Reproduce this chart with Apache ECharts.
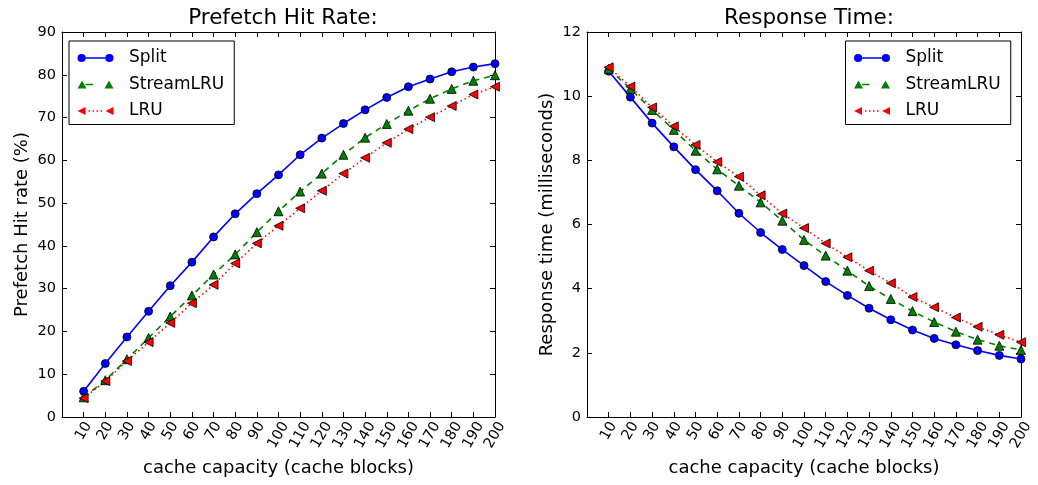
<!DOCTYPE html>
<html>
<head>
<meta charset="utf-8">
<script src="https://cdn.jsdelivr.net/npm/echarts@6/dist/echarts.min.js"></script>
<style>html,body{margin:0;padding:0;background:#fff}#c{width:1038px;height:485px}</style>
</head>
<body>
<div id="c"></div>
<script>
const capacity = [10,20,30,40,50,60,70,80,90,100,110,120,130,140,150,160,170,180,190,200];
const hitSplit = [6.0,12.5,18.7,24.7,30.7,36.2,42.1,47.5,52.2,56.6,61.3,65.2,68.6,71.8,74.7,77.2,79.0,80.7,81.8,82.6];
const hitStream = [4.6,8.6,13.5,18.5,23.5,28.4,33.3,38.0,43.2,48.1,52.7,56.9,61.3,65.3,68.5,71.6,74.4,76.7,78.6,79.9];
const hitLRU = [4.4,8.4,13.1,17.5,22.0,26.6,30.9,35.9,40.6,44.7,48.8,52.9,56.9,60.6,64.1,67.3,70.1,72.7,75.4,77.2];
const rtSplit = [10.78,9.97,9.16,8.42,7.71,7.05,6.35,5.75,5.22,4.72,4.22,3.79,3.39,3.03,2.71,2.45,2.25,2.07,1.92,1.81];
const rtStream = [10.85,10.23,9.57,8.95,8.30,7.72,7.21,6.69,6.12,5.52,5.03,4.56,4.08,3.68,3.30,2.96,2.66,2.41,2.22,2.09];
const rtLRU = [10.9,10.30,9.65,9.06,8.48,7.95,7.49,6.91,6.34,5.89,5.41,4.98,4.56,4.17,3.74,3.42,3.10,2.81,2.56,2.33];
const seriesNames = ['Split','StreamLRU','LRU'];
const titles = ['Prefetch Hit Rate:','Response Time:'];
const yNames = ['Prefetch Hit rate (%)','Response time (milliseconds)'];
const xName = 'cache capacity (cache blocks)';

const FONT = 'DejaVu Sans';
const pair = ys => capacity.map((x,i)=>[x,ys[i]]);
const styles = [
  {color:'#0000ff', symbol:'circle', size:8, rotate:0, line:'solid'},
  {color:'#008000', symbol:'triangle', size:9, rotate:0, line:[6,5]},
  {color:'#ff0000', symbol:'triangle', size:9, rotate:90, line:[1.5,3]}
];
// legend icons: marker at both ends joined by the line style (matplotlib look)
const legendIcons = [
  'path://M0.5,4.5A4,4 0 1,1 8.5,4.5A4,4 0 1,1 0.5,4.5Z M27.5,4.5A4,4 0 1,1 35.5,4.5A4,4 0 1,1 27.5,4.5Z M8.5,3.7L27.5,3.7L27.5,5.3L8.5,5.3Z',
  'path://M0,8.5L4.5,0.5L9,8.5Z M27,8.5L31.5,0.5L36,8.5Z M8,3.8L15.5,3.8L15.5,5.2L8,5.2Z',
  'path://M0,4.5L8,0.5L8,8.5Z M28,4.5L36,0.5L36,8.5Z M11,3.8h1.5v1.5h-1.5Z M15,3.8h1.5v1.5h-1.5Z M19,3.8h1.5v1.5h-1.5Z M23,3.8h1.5v1.5h-1.5Z'
];
function mkSeries(name, data, gi, st){
  return {
    name, type:'line', data:pair(data), xAxisIndex:gi*2, yAxisIndex:gi*2,
    symbol:st.symbol, symbolSize:st.size, symbolRotate:st.rotate,
    showSymbol:true, animation:false,
    lineStyle:{color:st.color, width:1.6, type:st.line},
    itemStyle:{color:st.color, borderColor:'#000', borderWidth:0.8}
  };
}
const tickStyle = {show:true, inside:true, length:5, lineStyle:{color:'#000', width:1}};
const lineStyleAxis = {show:true, onZero:false, lineStyle:{color:'#000', width:1}};
function xAxes(gi){
  return [
    {type:'value', gridIndex:gi, min:0, max:200, interval:10, position:'bottom',
     name:xName, nameLocation:'middle', nameGap:42,
     nameTextStyle:{fontFamily:FONT, fontSize:18, color:'#000'},
     axisLine:lineStyleAxis, axisTick:tickStyle,
     axisLabel:{showMinLabel:false, rotate:60, align:'center', verticalAlign:'middle',
       fontFamily:FONT, fontSize:14.5, color:'#000', margin:14,
       formatter: v => v >= 100 ? '{b|' + v + '}' : String(v),
       rich:{b:{fontFamily:FONT, fontSize:14.5, color:'#000', padding:[4,7,0,0]}}},
     splitLine:{show:false}},
    {type:'value', gridIndex:gi, min:0, max:200, interval:10, position:'top',
     axisLine:lineStyleAxis, axisTick:tickStyle,
     axisLabel:{show:false}, splitLine:{show:false}}
  ];
}
function yAxes(gi, max, interval){
  return [
    {type:'value', gridIndex:gi, min:0, max, interval, position:'left',
     name:yNames[gi], nameLocation:'middle', nameGap:31,
     nameTextStyle:{fontFamily:FONT, fontSize:18, color:'#000'},
     axisLine:lineStyleAxis, axisTick:tickStyle,
     axisLabel:{fontFamily:FONT, fontSize:14.5, color:'#000', margin:6},
     splitLine:{show:false}},
    {type:'value', gridIndex:gi, min:0, max, interval, position:'right',
     axisLine:lineStyleAxis, axisTick:tickStyle,
     axisLabel:{show:false}, splitLine:{show:false}}
  ];
}
function legend(pos){
  return Object.assign({
    orient:'vertical',
    data:seriesNames.map((n,i)=>({name:n, icon:legendIcons[i], itemStyle:{color:styles[i].color, borderWidth:0}})),
    itemWidth:36, itemHeight:9, itemGap:9.5,
    backgroundColor:'#fff', borderColor:'#000', borderWidth:1, borderRadius:0,
    padding:[8.5,10,5,8.5],
    textStyle:{fontFamily:FONT, fontSize:17, color:'#000', padding:[0,0,0,10.5]},
    selectedMode:false
  }, pos);
}
const chart = echarts.init(document.getElementById('c'), null, {renderer:'canvas'});
chart.setOption({
  backgroundColor:'#fff',
  animation:false,
  title:[
    {text:titles[0], left:278, top:2, textAlign:'center', textStyle:{fontFamily:FONT, fontSize:21.5, fontWeight:'normal', color:'#000'}},
    {text:titles[1], left:804, top:2, textAlign:'center', textStyle:{fontFamily:FONT, fontSize:21.5, fontWeight:'normal', color:'#000'}}
  ],
  grid:[
    {left:62, right:543, top:32, bottom:68},
    {left:587, right:17, top:32, bottom:68}
  ],
  legend:[legend({left:69, top:41}), legend({left:845.5, top:41})],
  xAxis:[...xAxes(0), ...xAxes(1)],
  yAxis:[...yAxes(0,90,10), ...yAxes(1,12,2)],
  series:[
    mkSeries(seriesNames[0], hitSplit, 0, styles[0]),
    mkSeries(seriesNames[1], hitStream, 0, styles[1]),
    mkSeries(seriesNames[2], hitLRU, 0, styles[2]),
    mkSeries(seriesNames[0], rtSplit, 1, styles[0]),
    mkSeries(seriesNames[1], rtStream, 1, styles[1]),
    mkSeries(seriesNames[2], rtLRU, 1, styles[2])
  ]
});
</script>
</body>
</html>
